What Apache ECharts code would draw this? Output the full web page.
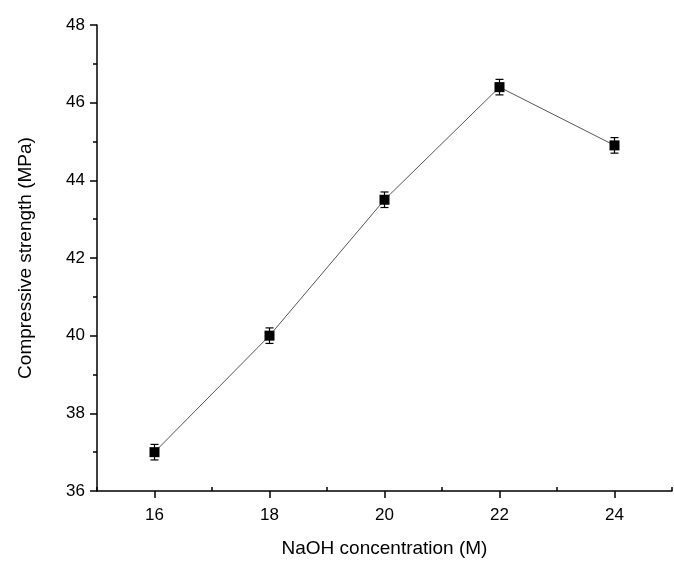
<!DOCTYPE html>
<html><head><meta charset="utf-8">
<script src="https://cdn.jsdelivr.net/npm/echarts@6/dist/echarts.min.js"></script>
<style>html,body{margin:0;padding:0;background:#fff}#c{width:674px;height:563px}</style>
</head><body><div id="c"></div>
<script>
const concentrations = [16, 18, 20, 22, 24];
const strengths = [37.0, 40.0, 43.5, 46.4, 44.9];
const errors = [0.2, 0.2, 0.2, 0.2, 0.2];
const xMajorTicks = [16, 18, 20, 22, 24];
const xMinorTicks = [15, 17, 19, 21, 23, 25];

const chart = echarts.init(document.getElementById('c'));
const pts = concentrations.map((x, i) => [x, strengths[i]]);
const errData = concentrations.map((x, i) => [x, strengths[i] - errors[i], strengths[i] + errors[i]]);
const axisText = {color: '#000', fontSize: 17, fontFamily: 'Arial, Liberation Sans'};
chart.setOption({
  animation: false,
  grid: {left: 97, right: 2, top: 25, bottom: 70},
  xAxis: [{
    type: 'value', min: 15, max: 25, interval: 1, position: 'bottom',
    name: 'NaOH concentration (M)', nameLocation: 'middle', nameGap: 48,
    nameTextStyle: {color: '#000', fontSize: 19, fontFamily: 'Arial, Liberation Sans'},
    axisLine: {onZero: false, lineStyle: {color: '#000', width: 1.5}},
    axisTick: {inside: false, length: 7, customValues: xMajorTicks, lineStyle: {color: '#000', width: 1.5}},
    splitLine: {show: false},
    axisLabel: Object.assign({margin: 16, customValues: xMajorTicks}, axisText)
  }, {
    type: 'value', min: 15, max: 25, interval: 1, position: 'bottom', offset: 0,
    axisLine: {show: false, onZero: false},
    axisTick: {show: true, inside: false, length: -4, customValues: xMinorTicks, lineStyle: {color: '#000', width: 1.5}},
    splitLine: {show: false},
    axisLabel: {show: false}
  }],
  yAxis: {
    type: 'value', min: 36, max: 48, interval: 2,
    name: 'Compressive strength (MPa)', nameLocation: 'middle', nameGap: 62,
    nameTextStyle: {color: '#000', fontSize: 19, fontFamily: 'Arial, Liberation Sans'},
    axisLine: {show: true, onZero: false, lineStyle: {color: '#000', width: 1.5}},
    axisTick: {show: true, inside: false, length: 7, lineStyle: {color: '#000', width: 1.5}},
    minorTick: {show: true, splitNumber: 2, length: 4, lineStyle: {color: '#000', width: 1.5}},
    splitLine: {show: false},
    axisLabel: Object.assign({margin: 12}, axisText)
  },
  series: [
    {
      type: 'line', data: pts, symbol: 'rect', symbolSize: 10,
      lineStyle: {color: '#555', width: 1}, itemStyle: {color: '#000'}, z: 3
    },
    {
      type: 'custom', data: errData, z: 2,
      renderItem: (params, api) => {
        const lo = api.coord([api.value(0), api.value(1)]);
        const hi = api.coord([api.value(0), api.value(2)]);
        const w = 4;
        const st = {stroke: '#000', lineWidth: 1.2};
        return {type: 'group', children: [
          {type: 'line', shape: {x1: lo[0], y1: lo[1], x2: hi[0], y2: hi[1]}, style: st},
          {type: 'line', shape: {x1: lo[0]-w, y1: lo[1], x2: lo[0]+w, y2: lo[1]}, style: st},
          {type: 'line', shape: {x1: hi[0]-w, y1: hi[1], x2: hi[0]+w, y2: hi[1]}, style: st}
        ]};
      }
    }
  ]
});
</script></body></html>
